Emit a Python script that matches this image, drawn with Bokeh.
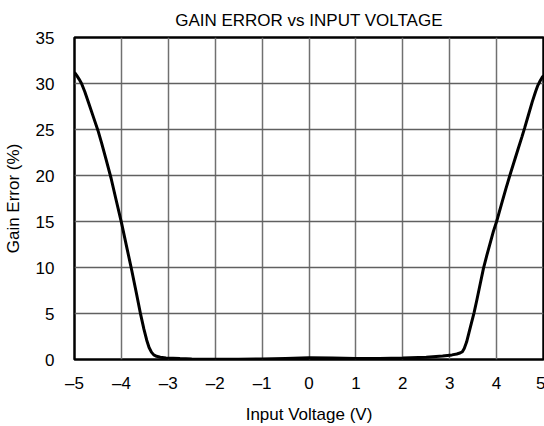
from bokeh.plotting import figure
from bokeh.models import Range1d, FixedTicker
from bokeh.embed import file_html
from bokeh.resources import INLINE

voltage = [-5.00, -4.95, -4.90, -4.85, -4.78, -4.70, -4.60, -4.50, -4.42, -4.33,
           -4.22, -4.12, -4.00, -3.89, -3.78, -3.68, -3.59, -3.52, -3.46, -3.41,
           -3.36, -3.31, -3.25, -3.17, -3.05, -2.75, -2.5, -2.0, -1.5, -1.0,
           -0.5, 0.0, 0.5, 1.0, 1.5, 2.0, 2.5, 2.85, 3.05, 3.15,
           3.22, 3.27, 3.31, 3.36, 3.41, 3.46, 3.52, 3.58, 3.65, 3.72,
           3.79, 3.86, 3.93, 4.00, 4.10, 4.20, 4.30, 4.38, 4.46, 4.54,
           4.60, 4.68, 4.76, 4.83, 4.88, 4.93, 4.97, 5.00]
gain_error = [31.2, 30.85, 30.45, 30.0, 29.1, 27.9, 26.4, 24.9, 23.5, 21.8,
              19.7, 17.5, 14.9, 12.3, 9.7, 7.2, 4.9, 3.3, 2.1, 1.3,
              0.8, 0.5, 0.35, 0.25, 0.17, 0.1, 0.06, 0.02, 0.03, 0.06,
              0.12, 0.18, 0.15, 0.12, 0.12, 0.15, 0.25, 0.38, 0.5, 0.6,
              0.7, 0.85, 1.2, 1.9, 2.9, 3.9, 5.1, 6.5, 8.2, 9.9,
              11.3, 12.6, 13.9, 15.0, 16.8, 18.6, 20.3, 21.6, 22.9, 24.2,
              25.2, 26.6, 28.0, 29.1, 29.8, 30.3, 30.65, 30.85]

x_ticks = [-5, -4, -3, -2, -1, 0, 1, 2, 3, 4, 5]
y_ticks = [0, 5, 10, 15, 20, 25, 30, 35]
x_tick_labels = {t: (("\u2013" + str(-t)) if t < 0 else str(t)) for t in x_ticks}

FONT = "Liberation Sans"

p = figure(frame_width=469, frame_height=322, output_backend="svg", toolbar_location=None,
           x_range=Range1d(-5, 5), y_range=Range1d(0, 35),
           title="GAIN ERROR vs INPUT VOLTAGE",
           min_border_left=65, min_border_right=2, min_border_top=29, min_border_bottom=60)

p.title.align = "center"
p.title.text_font = FONT
p.title.text_font_size = "17px"
p.title.text_font_style = "normal"
p.title.text_color = "#000000"
p.title.standoff = 16

p.line(voltage, gain_error, line_color="black", line_width=3)

for ax in (p.xaxis[0], p.yaxis[0]):
    ax.major_tick_line_color = None
    ax.minor_tick_line_color = None
    ax.axis_line_color = None
    ax.major_label_text_font = FONT
    ax.major_label_text_font_size = "17px"
    ax.major_label_text_color = "#000000"
    ax.axis_label_text_font = FONT
    ax.axis_label_text_font_size = "17px"
    ax.axis_label_text_font_style = "normal"
    ax.axis_label_text_color = "#000000"

p.xaxis.ticker = FixedTicker(ticks=x_ticks)
p.yaxis.ticker = FixedTicker(ticks=y_ticks)
p.xaxis.major_label_overrides = x_tick_labels
p.xaxis.axis_label = "Input Voltage (V)"
p.yaxis.axis_label = "Gain Error (%)"
p.xaxis.major_label_standoff = 8
p.yaxis.major_label_standoff = 14
p.xaxis.axis_label_standoff = 9
p.yaxis.axis_label_standoff = 10

p.xgrid.grid_line_color = "#707070"
p.xgrid.grid_line_width = 1.5
p.ygrid.grid_line_color = "#606060"
p.ygrid.grid_line_width = 1.5

p.outline_line_color = "black"
p.outline_line_width = 2.5
p.outline_line_alpha = 1.0

open("out.html", "w").write(file_html(p, INLINE))
